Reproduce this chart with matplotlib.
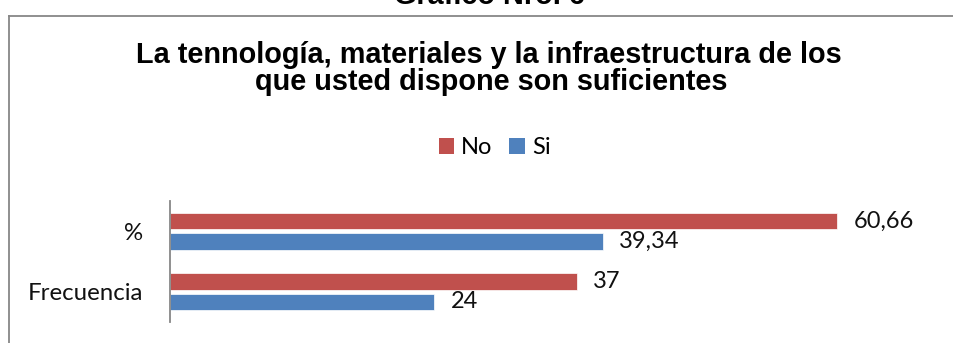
import matplotlib
matplotlib.use("Agg")
import matplotlib.pyplot as plt
from matplotlib.patches import Patch
from matplotlib.lines import Line2D

# Data
categories = ["Frecuencia", "%"]
no_values = [37, 60.66]
si_values = [24, 39.34]
series_labels = ["No", "Si"]
title_lines = ["La tennología, materiales y la infraestructura de los",
               "que usted dispone son suficientes"]
header = "Gráfico Nro. 6"

RED = "#C0504D"
BLUE = "#4F81BD"
FRAME = "#878787"

W, H = 954, 343
fig = plt.figure(figsize=(W / 100, H / 100), dpi=100)

def fx(px):
    return px / W

def fy(py):
    return 1 - py / H

# Outer chart frame (top and left edges)
fig.add_artist(Line2D([fx(9.5), fx(W)], [fy(15.5), fy(15.5)], color=FRAME, lw=1.3))
fig.add_artist(Line2D([fx(9.5), fx(9.5)], [fy(15.5), fy(H)], color=FRAME, lw=1.3))

# Header above the frame
fig.text(fx(489), fy(4), header, ha="center", va="baseline",
         fontsize=20.8, fontweight="bold", family="Liberation Sans")

# Chart title
fig.text(fx(489), fy(63.3), title_lines[0], ha="center", va="baseline",
         fontsize=20.8, fontweight="bold", family="Liberation Sans")
fig.text(fx(491), fy(90), title_lines[1], ha="center", va="baseline",
         fontsize=20.8, fontweight="bold", family="Liberation Sans")

# Plot area
ax = fig.add_axes([fx(170), fy(322), fx(940) - fx(170), (322 - 201) / H])
y = list(range(len(categories)))
off = 0.167
h = 0.272
bars_no = ax.barh([v + off for v in y], no_values, height=h, color=RED,
                  edgecolor="white", linewidth=0.5)
bars_si = ax.barh([v - off for v in y], si_values, height=h, color=BLUE,
                  edgecolor="white", linewidth=0.5)

def fmt(v):
    return f"{v:g}".replace(".", ",")

for bars, vals in ((bars_no, no_values), (bars_si, si_values)):
    for b, v in zip(bars, vals):
        ax.annotate(fmt(v), (v, b.get_y() + b.get_height() / 2),
                    xytext=(11.8, 0), textcoords="offset points",
                    ha="left", va="center", fontsize=17, family="Lato",
                    color="#111111")

ax.set_xlim(0, 70)
ax.set_ylim(-0.5, 1.5)
ax.set_yticks(y)
ax.set_yticklabels(categories, fontsize=17.3, family="Lato", color="#111111")
ax.tick_params(axis="y", length=0, pad=19.5)
ax.set_xticks([])
for s in ("top", "right", "bottom"):
    ax.spines[s].set_visible(False)
ax.spines["left"].set_color(FRAME)
ax.spines["left"].set_linewidth(1.3)
ax.patch.set_alpha(0)

# Legend
handles = [Patch(facecolor=RED), Patch(facecolor=BLUE)]
fig.legend(handles, series_labels, loc="center", ncol=2,
           bbox_to_anchor=(fx(494.5), fy(147.5)), frameon=False,
           prop={"family": "Lato", "size": 17},
           handlelength=0.66, handleheight=0.66, handletextpad=0.3,
           columnspacing=0.7, borderpad=0, borderaxespad=0)

fig.savefig("out.png", dpi=100)
